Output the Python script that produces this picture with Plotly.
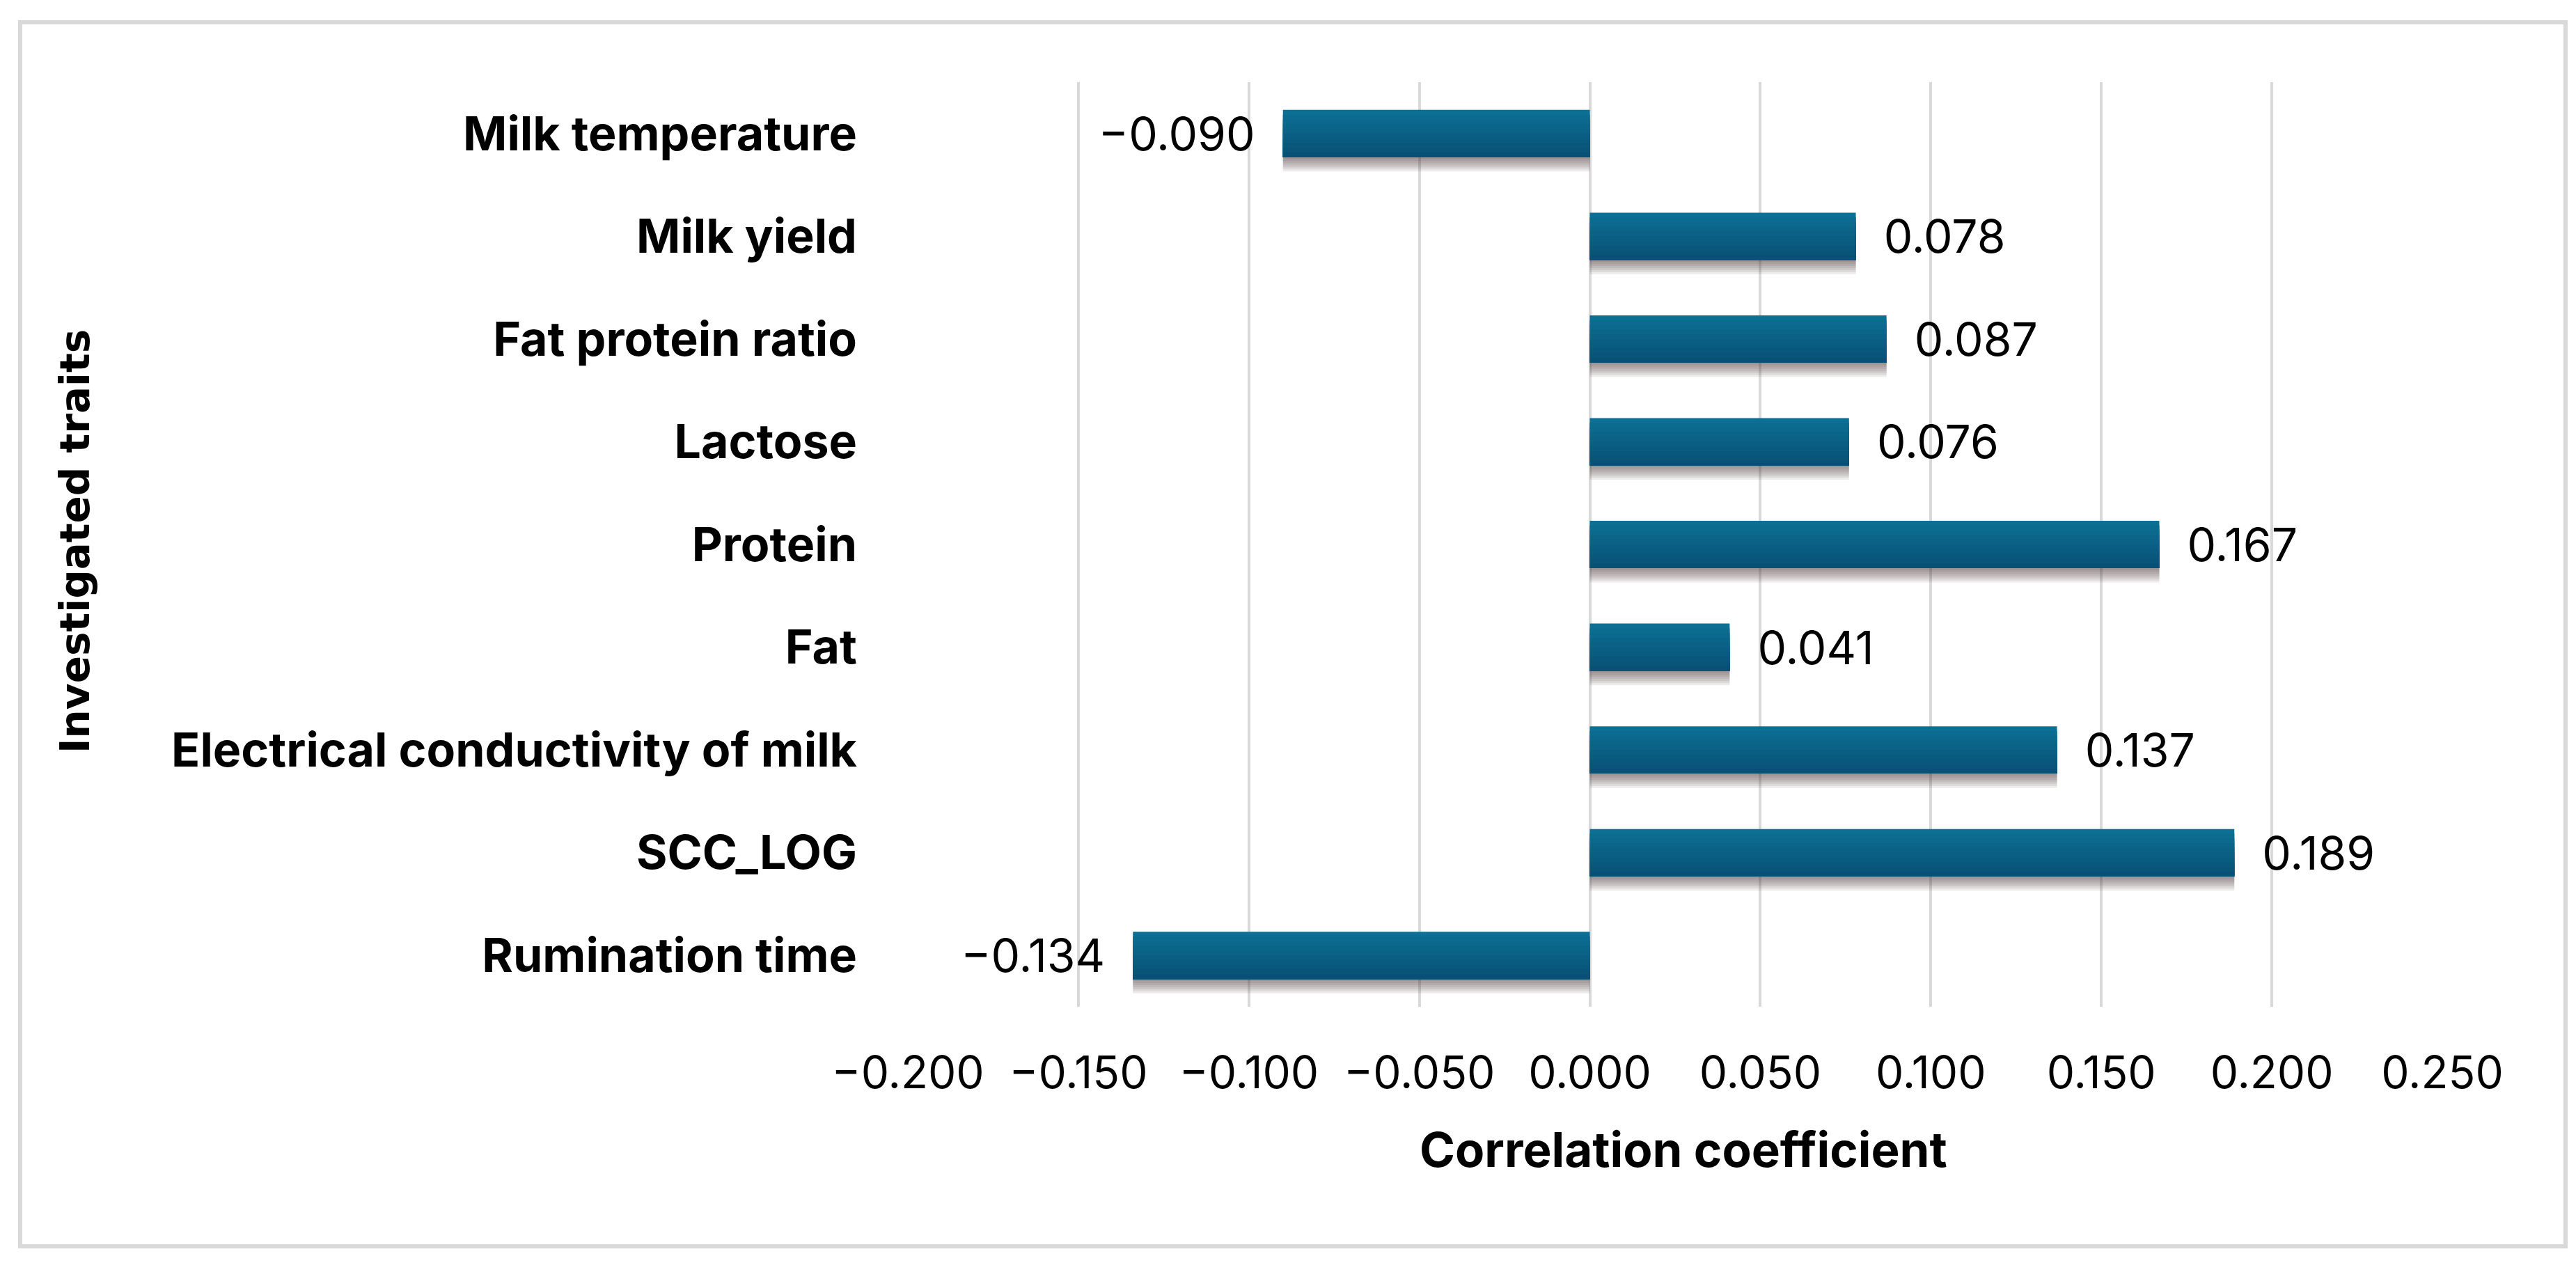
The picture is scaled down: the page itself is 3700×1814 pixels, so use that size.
import plotly.graph_objects as go

# ---- data ----
categories = ["Milk temperature", "Milk yield", "Fat protein ratio", "Lactose",
              "Protein", "Fat", "Electrical conductivity of milk", "SCC_LOG",
              "Rumination time"]
values = [-0.090, 0.078, 0.087, 0.076, 0.167, 0.041, 0.137, 0.189, -0.134]
x_tick_values = [-0.200, -0.150, -0.100, -0.050, 0.000, 0.050, 0.100, 0.150, 0.200, 0.250]
x_title = "Correlation coefficient"
y_title = "Investigated traits"

# ---- style ----
W, H = 3700, 1814
FONT = "Inter, Roboto, Liberation Sans, sans-serif"
BAR_W = 0.46
TOP_RGB = (11, 112, 147)
BOT_RGB = (9, 80, 118)
N_GRAD = 10
PAD = "\u00a0\u00a0"

def fmt(v):
    s = f"{v:.3f}".replace("-", "\u2212")
    return (PAD + s) if v >= 0 else (s + PAD)

labels = [fmt(v) for v in values]

fig = go.Figure()

# soft drop shadow beneath bars
for k in range(1, 8):
    fig.add_trace(go.Bar(
        x=values, y=categories, orientation="h",
        width=BAR_W, offset=-BAR_W / 2 + k * 0.02,
        marker=dict(color="rgba(80,60,60,0.10)", line=dict(width=0)),
        hoverinfo="skip", showlegend=False,
    ))

# vertical gradient (lighter top -> darker bottom)
for k in range(N_GRAD):
    t = k / (N_GRAD - 1)
    r = round(TOP_RGB[0] + (BOT_RGB[0] - TOP_RGB[0]) * t)
    g = round(TOP_RGB[1] + (BOT_RGB[1] - TOP_RGB[1]) * t)
    b = round(TOP_RGB[2] + (BOT_RGB[2] - TOP_RGB[2]) * t)
    step = BAR_W / N_GRAD
    fig.add_trace(go.Bar(
        x=values, y=categories, orientation="h",
        width=BAR_W - k * step, offset=-BAR_W / 2 + k * step,
        marker=dict(color=f"rgb({r},{g},{b})", line=dict(width=0)),
        hoverinfo="skip", showlegend=False,
    ))

# data labels
fig.add_trace(go.Bar(
    x=values, y=categories, orientation="h",
    width=BAR_W, offset=-BAR_W / 2,
    marker=dict(color="rgba(0,0,0,0)", line=dict(width=0)),
    text=labels, textposition="outside", constraintext="none",
    textfont=dict(family=FONT, size=66, color="#000000"),
    cliponaxis=False, hoverinfo="skip", showlegend=False,
))

x0, x1 = 1296, 3500
y_top, y_bot = 110, 1438

fig.update_layout(
    width=W, height=H,
    margin=dict(l=0, r=0, t=0, b=0),
    paper_bgcolor="white", plot_bgcolor="white",
    barmode="overlay",
    showlegend=False,
    font=dict(family=FONT, color="#000000"),
    xaxis=dict(
        domain=[x0 / W, x1 / W],
        range=[-0.2, 0.25],
        tickvals=x_tick_values,
        tickformat=".3f",
        showgrid=True, gridcolor="#d9d9d9", gridwidth=4,
        zeroline=False, showline=False, ticks="",
        tickfont=dict(family=FONT, size=64, color="#000000"),
        ticklabelstandoff=52, automargin=False,
    ),
    yaxis=dict(
        domain=[1 - y_bot / H, 1 - y_top / H],
        range=[len(categories) - 0.5, -0.5],
        showgrid=False, zeroline=False, showline=False, ticks="",
        tickfont=dict(family=FONT, size=68, color="#000000", weight="bold"),
        ticklabelstandoff=72, automargin=False,
    ),
    annotations=[
        dict(text=x_title, xref="paper", yref="paper",
             x=2410 / W, y=1 - 1643 / H, xanchor="center", yanchor="middle",
             showarrow=False,
             font=dict(family=FONT, size=69, color="#000000", weight="bold")),
        dict(text=y_title, xref="paper", yref="paper",
             x=100 / W, y=1 - 770 / H, xanchor="center", yanchor="middle",
             textangle=-90, showarrow=False,
             font=dict(family="DejaVu Sans, sans-serif", size=58, color="#000000", weight="bold")),
    ],
    shapes=[
        dict(type="rect", xref="paper", yref="paper",
             x0=21 / W, x1=3677 / W, y0=1 - 1782 / H, y1=1 - 24 / H,
             line=dict(color="#d9d9d9", width=6), fillcolor="rgba(0,0,0,0)",
             layer="below"),
    ],
)

fig.write_html("out.html")
